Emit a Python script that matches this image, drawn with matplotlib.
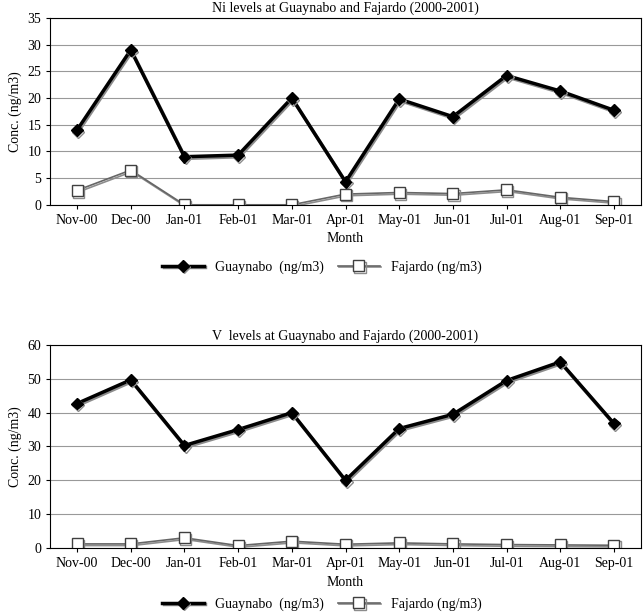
import matplotlib
matplotlib.use("Agg")
import matplotlib.pyplot as plt
import matplotlib.patheffects as pe

months = ["Nov-00", "Dec-00", "Jan-01", "Feb-01", "Mar-01", "Apr-01",
          "May-01", "Jun-01", "Jul-01", "Aug-01", "Sep-01"]
ni_guaynabo = [14, 29, 9, 9.3, 20, 4.3, 19.8, 16.5, 24.2, 21.3, 17.7]
ni_fajardo = [2.7, 6.5, 0, 0, 0, 2.0, 2.3, 2.1, 2.8, 1.4, 0.6]
v_guaynabo = [42.7, 49.7, 30.3, 35, 40, 20, 35.3, 39.5, 49.5, 55, 36.8]
v_fajardo = [1.2, 1.2, 3.0, 0.7, 2.0, 1.1, 1.5, 1.2, 1.0, 0.9, 0.8]

plt.rcParams["font.family"] = "Liberation Serif"
plt.rcParams["font.size"] = 10

fig = plt.figure(figsize=(6.44, 6.15), dpi=100)
shadow = [pe.SimpleLineShadow(offset=(0.8, -1.2), shadow_color="0.55", alpha=1), pe.Normal()]


def panel(rect, g, f, ymax, step, title, legy):
    ax = fig.add_axes(rect)
    x = range(len(months))
    ax.plot(x, g, color="black", lw=2.5, marker="D", ms=6,
            label="Guaynabo  (ng/m3)", path_effects=shadow)
    ax.plot(x, f, color="0.4", lw=1.2, marker="s", ms=8, mfc="white",
            mec="0.25", label="Fajardo (ng/m3)", path_effects=shadow)
    ax.set_ylim(0, ymax)
    ax.set_yticks(range(0, ymax + 1, step))
    ax.set_xlim(-0.5, len(months) - 0.5)
    ax.set_xticks(list(x))
    ax.set_xticklabels(months)
    ax.grid(axis="y", color="0.6", lw=0.8)
    ax.set_axisbelow(True)
    ax.tick_params(length=3)
    ax.set_title(title, fontsize=10, pad=4)
    ax.set_xlabel("Month", labelpad=4)
    ax.set_ylabel("Conc. (ng/m3)")
    fig.legend(*ax.get_legend_handles_labels(), loc="center", ncol=2,
               bbox_to_anchor=(0.5, legy), frameon=False, fontsize=10,
               columnspacing=1.0, handlelength=3)
    return ax


panel([0.078, 0.667, 0.917, 0.304], ni_guaynabo, ni_fajardo, 35, 5,
      "Ni levels at Guaynabo and Fajardo (2000-2001)", 0.566)
panel([0.078, 0.109, 0.917, 0.33], v_guaynabo, v_fajardo, 60, 10,
      "V  levels at Guaynabo and Fajardo (2000-2001)", 0.018)

fig.savefig("out.png", dpi=100)
